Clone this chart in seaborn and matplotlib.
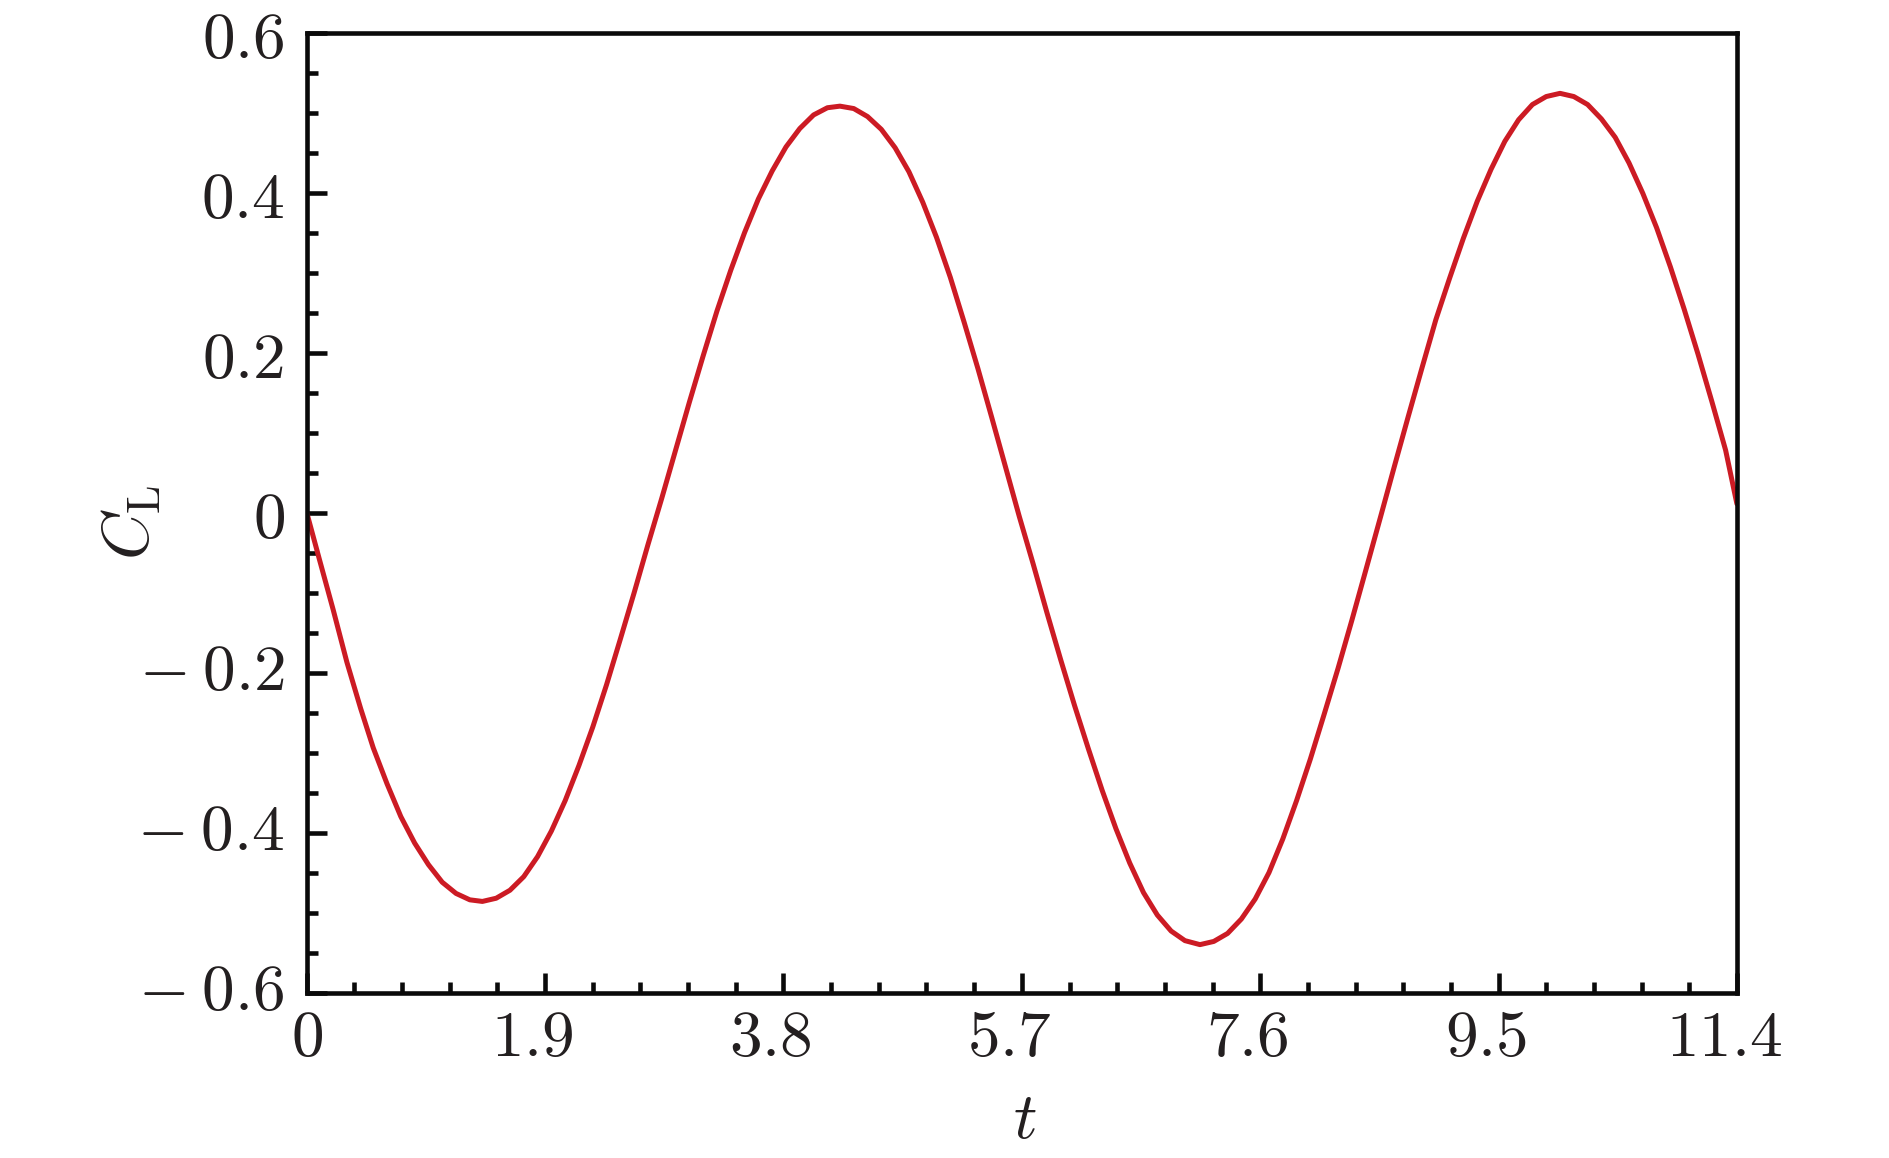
import numpy as np
import pandas as pd
import matplotlib
matplotlib.use('Agg')
import matplotlib.pyplot as plt
import seaborn as sns
from matplotlib.ticker import AutoMinorLocator, FuncFormatter
from matplotlib.transforms import ScaledTranslation

# lift coefficient history
t = [0.00, 0.10, 0.21, 0.32, 0.43, 0.53, 0.64, 0.75, 0.86, 0.97,
     1.08, 1.19, 1.30, 1.40, 1.51, 1.62, 1.73, 1.84, 1.95, 2.06,
     2.17, 2.28, 2.39, 2.50, 2.61, 2.72, 2.83, 2.94, 3.05, 3.16,
     3.27, 3.38, 3.49, 3.60, 3.71, 3.82, 3.93, 4.04, 4.15, 4.25,
     4.36, 4.47, 4.58, 4.69, 4.80, 4.91, 5.02, 5.13, 5.24, 5.35,
     5.46, 5.57, 5.68, 5.79, 5.90, 6.01, 6.12, 6.23, 6.34, 6.45,
     6.56, 6.67, 6.78, 6.89, 7.00, 7.12, 7.23, 7.34, 7.45, 7.56,
     7.67, 7.78, 7.89, 8.00, 8.11, 8.22, 8.33, 8.44, 8.56, 8.67,
     8.78, 8.89, 9.00, 9.11, 9.22, 9.33, 9.44, 9.55, 9.66, 9.77,
     9.88, 9.99, 10.10, 10.21, 10.32, 10.43, 10.54, 10.65, 10.76, 10.87,
     10.98, 11.09, 11.20, 11.31, 11.40]
cl = [0.000, -0.058, -0.121, -0.187, -0.245, -0.294, -0.339, -0.380, -0.413, -0.440,
      -0.462, -0.476, -0.484, -0.486, -0.482, -0.472, -0.455, -0.430, -0.398, -0.360,
      -0.316, -0.268, -0.215, -0.158, -0.100, -0.040, 0.018, 0.078, 0.138, 0.196,
      0.252, 0.303, 0.350, 0.392, 0.427, 0.457, 0.480, 0.497, 0.506, 0.508,
      0.505, 0.495, 0.479, 0.456, 0.426, 0.388, 0.344, 0.294, 0.238, 0.180,
      0.119, 0.057, -0.005, -0.064, -0.125, -0.184, -0.241, -0.295, -0.347, -0.395,
      -0.438, -0.475, -0.503, -0.523, -0.535, -0.540, -0.536, -0.526, -0.508, -0.483,
      -0.450, -0.408, -0.360, -0.308, -0.252, -0.195, -0.135, -0.073, -0.005, 0.058,
      0.120, 0.181, 0.241, 0.293, 0.343, 0.389, 0.429, 0.464, 0.491, 0.510,
      0.520, 0.524, 0.520, 0.510, 0.492, 0.469, 0.437, 0.399, 0.356, 0.307,
      0.254, 0.198, 0.139, 0.078, 0.011]

x_ticks = [0, 1.9, 3.8, 5.7, 7.6, 9.5, 11.4]
y_ticks = [-0.6, -0.4, -0.2, 0, 0.2, 0.4, 0.6]

df = pd.DataFrame({'t': t, 'CL': cl})

sns.set_theme(style='ticks')
plt.rcParams['mathtext.fontset'] = 'cm'
plt.rcParams['font.family'] = ['DejaVu Serif']

ink = '#231f20'

fig = plt.figure(figsize=(18.9, 11.58), dpi=100)
ax = fig.add_axes([0.1623, 0.1428, 0.7567, 0.8291])

sns.lineplot(data=df, x='t', y='CL', ax=ax, color='#cc1b24', linewidth=3.6,
             estimator=None, sort=False)

ax.set_xlim(0, 11.4)
ax.set_ylim(-0.6, 0.6)
ax.set_xticks(x_ticks)
ax.set_yticks(y_ticks)
ax.xaxis.set_minor_locator(AutoMinorLocator(5))
ax.yaxis.set_minor_locator(AutoMinorLocator(4))


def fmt(v, pos):
    if abs(v) < 1e-9:
        return r'$0$'
    if v < 0:
        return r'$-\:%s$' % f'{abs(v):g}'
    return r'$%s$' % f'{v:g}'


ax.xaxis.set_major_formatter(FuncFormatter(fmt))
ax.yaxis.set_major_formatter(FuncFormatter(fmt))

for s in ax.spines.values():
    s.set_linewidth(3.3)
    s.set_color('#0a0a0a')

ax.tick_params(which='both', direction='in', top=False, right=False,
               width=3.3, color='#0a0a0a', labelcolor=ink, labelsize=47)
ax.tick_params(which='major', length=14.5)
ax.tick_params(axis='x', which='major', pad=9.5)
ax.tick_params(axis='y', which='major', pad=16)
ax.tick_params(which='minor', length=8)

# the decimal labels sit a bit left of their ticks in the original
shift = ScaledTranslation(-0.13, 0, fig.dpi_scale_trans)
for lab in ax.get_xticklabels()[1:]:
    lab.set_transform(lab.get_transform() + shift)

# the minus glyph drags the mathtext box down, pull negatives back up
lift = ScaledTranslation(0, 0.08, fig.dpi_scale_trans)
for lab in ax.get_yticklabels()[:3]:
    lab.set_transform(lab.get_transform() + lift)

ax.set_xlabel(r'$t$', fontsize=47, color=ink)
ax.set_ylabel(r'$C_{\mathrm{L}}$', fontsize=47, color=ink)
ax.xaxis.set_label_coords(0.502, -0.099)
ax.yaxis.set_label_coords(-0.10, 0.49)

plt.savefig('out.png', dpi=100)
